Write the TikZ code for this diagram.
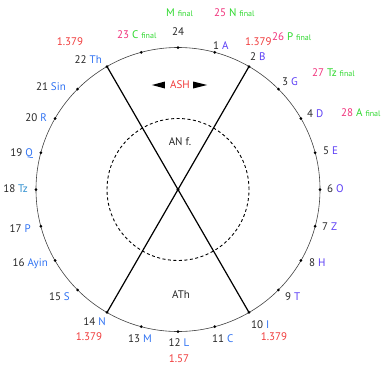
\documentclass[tikz,border=0pt]{standalone}
\usepackage{fontspec}
\setmainfont{PT Sans}
\usepackage{tikz}

\definecolor{letA}{HTML}{5B3DF5}
\definecolor{letB}{HTML}{2F72F2}
\definecolor{letTz}{HTML}{2F8FCF}
\definecolor{finnum}{HTML}{F0307A}
\definecolor{finlet}{HTML}{2ED82E}
\definecolor{valred}{HTML}{F03A3A}

\begin{document}
\begin{tikzpicture}[x=1pt,y=1pt]
\tikzstyle{every node}+=[inner sep=0pt, text height=7.8pt, text depth=0pt, font=\fontsize{11}{13}\selectfont, text=black!85]
\useasboundingbox (-178,-178.5) rectangle (207,189.5);
\draw [black!75, line width=0.6] (0,0) circle (142);
\draw [black, line width=0.9, dash pattern=on 3pt off 2.5pt] (0,0) circle (71);
\coordinate (mid) at (0,0);
\coordinate (p1) at (75:142);
\coordinate (p2) at (60:142);
\coordinate (p3) at (45:142);
\coordinate (p4) at (30:142);
\coordinate (p5) at (15:142);
\coordinate (p6) at (0:142);
\coordinate (p7) at (-15:142);
\coordinate (p8) at (-30:142);
\coordinate (p9) at (-45:142);
\coordinate (p10) at (-60:142);
\coordinate (p11) at (-75:142);
\coordinate (p12) at (-90:142);
\coordinate (p13) at (-105:142);
\coordinate (p14) at (-120:142);
\coordinate (p15) at (-135:142);
\coordinate (p16) at (-150:142);
\coordinate (p17) at (-165:142);
\coordinate (p18) at (180:142);
\coordinate (p19) at (165:142);
\coordinate (p20) at (150:142);
\coordinate (p21) at (135:142);
\coordinate (p22) at (120:142);
\coordinate (p23) at (105:142);
\coordinate (p24) at (90:142);
\draw [black, line width=1.2] (p2) -- (p14);
\draw [black, line width=1.2] (p22) -- (p10);
\fill [black] (mid) circle (1.6);
\fill [black] (p1) circle (1.5);
\fill [black] (p2) circle (1.5);
\fill [black] (p3) circle (1.5);
\fill [black] (p4) circle (1.5);
\fill [black] (p5) circle (1.5);
\fill [black] (p6) circle (1.5);
\fill [black] (p7) circle (1.5);
\fill [black] (p8) circle (1.5);
\fill [black] (p9) circle (1.5);
\fill [black] (p10) circle (1.5);
\fill [black] (p11) circle (1.5);
\fill [black] (p12) circle (1.5);
\fill [black] (p13) circle (1.5);
\fill [black] (p14) circle (1.5);
\fill [black] (p15) circle (1.5);
\fill [black] (p16) circle (1.5);
\fill [black] (p17) circle (1.5);
\fill [black] (p18) circle (1.5);
\fill [black] (p19) circle (1.5);
\fill [black] (p20) circle (1.5);
\fill [black] (p21) circle (1.5);
\fill [black] (p22) circle (1.5);
\fill [black] (p23) circle (1.5);
\fill [black] (p24) circle (1.5);
% letters, right half
\node [anchor=west] (l1) at (35,143.5) {1 \textcolor{letA}{A}};
\node [anchor=west] (l2) at (72,132.5) {2 \textcolor{letA}{B}};
\node [anchor=west] (l3) at (104,107.5) {3 \textcolor{letA}{G}};
\node [anchor=west] (l4) at (129,75.5) {4 \textcolor{letA}{D}};
\node [anchor=west] (l5) at (145,38.5) {5 \textcolor{letA}{E}};
\node [anchor=west] (l6) at (149,0.5) {6 \textcolor{letA}{O}};
\node [anchor=west] (l7) at (144,-37.5) {7 \textcolor{letA}{Z}};
\node [anchor=west] (l8) at (131,-73.5) {8 \textcolor{letA}{H}};
\node [anchor=west] (l9) at (107,-107.5) {9 \textcolor{letA}{T}};
\node [anchor=west] (l10) at (73,-135.5) {10 \textcolor{letB}{I}};
\node [anchor=west] (l11) at (34,-149.5) {11 \textcolor{letB}{C}};
% letters, left half
\node (l12) at (1,-153.5) {12 \textcolor{letB}{L}};
\node (l13) at (-38,-149.5) {13 \textcolor{letB}{M}};
\node [anchor=east] (l14) at (-72,-132.5) {14 \textcolor{letB}{N}};
\node [anchor=east] (l15) at (-108,-107.5) {15 \textcolor{letB}{S}};
\node [anchor=east] (l16) at (-130,-73.5) {16 \textcolor{letB}{Ayin}};
\node [anchor=east] (l17) at (-147,-39.5) {17 \textcolor{letB}{P}};
\node [anchor=east] (l18) at (-150,0.5) {18 \textcolor{letTz}{Tz}};
\node [anchor=east] (l19) at (-145,36.5) {19 \textcolor{letB}{Q}};
\node [anchor=east] (l20) at (-131,71.5) {20 \textcolor{letB}{R}};
\node [anchor=east] (l21) at (-112,102.5) {21 \textcolor{letB}{Sin}};
\node [anchor=east] (l22) at (-76,129.5) {22 \textcolor{letB}{Th}};
\node (l24) at (0,157.5) {24};
% finals
\node [anchor=west] (f23) at (-61,154.5) {\textcolor{finnum}{23} \textcolor{finlet}{C {\fontsize{8}{9}\selectfont final}}};
\node [anchor=west] (f24) at (-12,176.5) {\textcolor{finlet}{M {\fontsize{8}{9}\selectfont final}}};
\node [anchor=west] (f25) at (36,176.5) {\textcolor{finnum}{25} \textcolor{finlet}{N {\fontsize{8}{9}\selectfont final}}};
\node [anchor=west] (f26) at (94,152.5) {\textcolor{finnum}{26} \textcolor{finlet}{P {\fontsize{8}{9}\selectfont final}}};
\node [anchor=west] (f27) at (134,116.5) {\textcolor{finnum}{27} \textcolor{finlet}{Tz {\fontsize{8}{9}\selectfont final}}};
\node [anchor=west] (f28) at (163,76.5) {\textcolor{finnum}{28} \textcolor{finlet}{A {\fontsize{8}{9}\selectfont final}}};
% values
\node [text=valred] (v22) at (-108,147.5) {1.379};
\node [text=valred, anchor=west] (v2) at (67,147.5) {1.379};
\node [text=valred] (v14) at (-89,-147.5) {1.379};
\node [text=valred] (v12) at (1,-169.5) {1.57};
\node [text=valred] (v10) at (96,-147.5) {1.379};
% inner labels
\node [text=valred] (ash) at (2,104.5) {ASH};
\fill [black] ([xshift=-18pt]ash.west) -- ([xshift=-5pt,yshift=3.5pt]ash.west) -- ([xshift=-5pt,yshift=-3.5pt]ash.west) -- cycle;
\fill [black] ([xshift=17pt]ash.east) -- ([xshift=3pt,yshift=3.5pt]ash.east) -- ([xshift=3pt,yshift=-3.5pt]ash.east) -- cycle;
\node (anf) at (2,47.5) {AN f.};
\node (ath) at (3,-105.5) {ATh};
\end{tikzpicture}
\end{document}
